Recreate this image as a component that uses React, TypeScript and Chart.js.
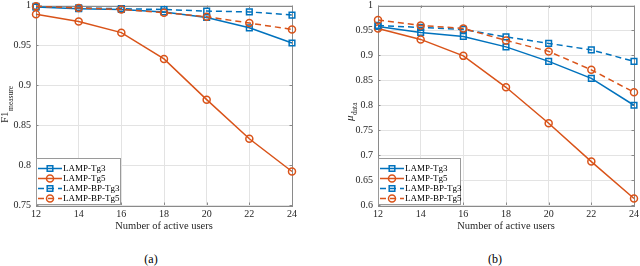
import React, { useEffect, useRef } from 'react';
import { Chart, registerables } from 'chart.js';
Chart.register(...registerables);

// ---- data ----
const users = [12, 14, 16, 18, 20, 22, 24];
const seriesNames = ['LAMP-Tg3', 'LAMP-Tg5', 'LAMP-BP-Tg3', 'LAMP-BP-Tg5'];

const f1Tg3 = [0.998, 0.996, 0.995, 0.992, 0.985, 0.972, 0.953];
const f1Tg5 = [0.989, 0.980, 0.966, 0.933, 0.882, 0.833, 0.792];
const f1BpTg3 = [0.999, 0.997, 0.996, 0.995, 0.993, 0.992, 0.988];
const f1BpTg5 = [0.999, 0.997, 0.995, 0.991, 0.986, 0.978, 0.970];

const muTg3 = [0.958, 0.946, 0.938, 0.917, 0.888, 0.854, 0.800];
const muTg5 = [0.954, 0.932, 0.899, 0.836, 0.764, 0.687, 0.613];
const muBpTg3 = [0.960, 0.956, 0.952, 0.937, 0.924, 0.911, 0.888];
const muBpTg5 = [0.971, 0.960, 0.954, 0.930, 0.908, 0.871, 0.826];

const userTicks = [12, 14, 16, 18, 20, 22, 24];
const f1Ticks = [0.75, 0.8, 0.85, 0.9, 0.95, 1];
const muTicks = [0.6, 0.65, 0.7, 0.75, 0.8, 0.85, 0.9, 0.95, 1];

const xTitle = 'Number of active users';

// ---- styles ----
const BLUE = '#0072BD';
const ORANGE = '#D95319';
const AXIS = '#262626';
const GRID = '#e3e3e3';
const BOXC = '#8a8a8a';
const FONT = '"Liberation Serif", "Times New Roman", serif';

const seriesStyle = [
  { color: BLUE, dash: [] as number[], point: 'rect' },
  { color: ORANGE, dash: [] as number[], point: 'circle' },
  { color: BLUE, dash: [6, 4], point: 'rect' },
  { color: ORANGE, dash: [6, 4], point: 'circle' },
];

function drawMarker(ctx: CanvasRenderingContext2D, kind: string, x: number, y: number, color: string) {
  ctx.save();
  ctx.setLineDash([]);
  ctx.strokeStyle = color;
  ctx.lineWidth = 1.5;
  ctx.beginPath();
  if (kind === 'rect') {
    const s = 2.8;
    ctx.rect(x - s, y - s, 2 * s, 2 * s);
  } else {
    ctx.arc(x, y, 3.5, 0, Math.PI * 2);
  }
  ctx.stroke();
  ctx.restore();
}

const framePlugin = {
  id: 'mframe',
  beforeDatasetsDraw(chart: any) {
    const { ctx, chartArea } = chart;
    const { left, right, top, bottom } = chartArea;
    ctx.save();
    ctx.strokeStyle = BOXC;
    ctx.lineWidth = 1;
    ctx.strokeRect(Math.round(left) + 0.5, Math.round(top) + 0.5, Math.round(right - left), Math.round(bottom - top));
    const tl = 2.5;
    ctx.beginPath();
    const xs = chart.scales.x;
    xs.ticks.forEach((t: any) => {
      const px = Math.round(xs.getPixelForValue(t.value)) + 0.5;
      ctx.moveTo(px, bottom);
      ctx.lineTo(px, bottom - tl);
      ctx.moveTo(px, top);
      ctx.lineTo(px, top + tl);
    });
    const ys = chart.scales.y;
    ys.ticks.forEach((t: any) => {
      const py = Math.round(ys.getPixelForValue(t.value)) + 0.5;
      ctx.moveTo(left, py);
      ctx.lineTo(left + tl, py);
      ctx.moveTo(right, py);
      ctx.lineTo(right - tl, py);
    });
    ctx.stroke();
    ctx.restore();
  },
};

const legendPlugin = {
  id: 'mlegend',
  afterDraw(chart: any, _args: any, opts: any) {
    const { ctx, chartArea } = chart;
    const x0 = Math.round(chartArea.left);
    const y1 = Math.round(chartArea.bottom);
    const y0 = y1 - 47;
    const w = opts.width;
    ctx.save();
    ctx.fillStyle = '#ffffff';
    ctx.fillRect(x0, y0, w, y1 - y0);
    ctx.strokeStyle = '#9a9a9a';
    ctx.lineWidth = 1;
    ctx.strokeRect(x0 + 0.5, y0 + 0.5, w - 1, y1 - y0 - 1);
    ctx.font = `9px ${FONT}`;
    ctx.textBaseline = 'middle';
    ctx.textAlign = 'left';
    chart.data.datasets.forEach((ds: any, i: number) => {
      const st = seriesStyle[i];
      const yy = y0 + 10 + i * 10 + 0.5;
      ctx.save();
      ctx.strokeStyle = st.color;
      ctx.lineWidth = 1.5;
      ctx.setLineDash(st.dash);
      ctx.beginPath();
      ctx.moveTo(x0 + 2, yy);
      ctx.lineTo(x0 + 26, yy);
      ctx.stroke();
      ctx.restore();
      drawMarker(ctx, st.point, x0 + 14, yy, st.color);
      ctx.fillStyle = '#000000';
      ctx.fillText(ds.label, x0 + 27, yy);
    });
    ctx.restore();
  },
};

const yLabelPlugin = {
  id: 'ylab',
  afterDraw(chart: any, _args: any, opts: any) {
    const ctx = chart.ctx;
    ctx.save();
    ctx.translate(opts.x, opts.y);
    ctx.rotate(-Math.PI / 2);
    ctx.fillStyle = AXIS;
    ctx.textBaseline = 'alphabetic';
    ctx.textAlign = 'left';
    ctx.font = `${opts.italic ? 'italic ' : ''}11px ${FONT}`;
    ctx.fillText(opts.main, 0, 0);
    const w = ctx.measureText(opts.main).width;
    ctx.font = `7.5px ${FONT}`;
    ctx.fillText(opts.sub, w + 0.5, opts.drop);
    ctx.restore();
  },
};

function buildDatasets(series: number[][]) {
  return series.map((vals, i) => {
    const st = seriesStyle[i];
    return {
      label: seriesNames[i],
      data: users.map((u, k) => ({ x: u, y: vals[k] })),
      borderColor: st.color,
      backgroundColor: 'rgba(0,0,0,0)',
      borderWidth: 1.5,
      borderDash: st.dash,
      pointStyle: st.point,
      pointRadius: st.point === 'rect' ? 4 : 3.5,
      pointBorderWidth: 1.5,
      pointBorderColor: st.color,
      pointBackgroundColor: 'rgba(0,0,0,0)',
      tension: 0,
      clip: false,
      order: 3 - i,
    };
  });
}

interface PlotProps {
  series: number[][];
  yTicks: number[];
  yAxisWidth: number;
  padRight: number;
  yLabel: { main: string; sub: string; x: number; y: number; drop: number; italic: boolean };
  legendWidth: number;
}

function Plot(props: PlotProps) {
  const ref = useRef<HTMLCanvasElement | null>(null);
  useEffect(() => {
    if (!ref.current) return;
    const tickFont = { family: FONT, size: 10 };
    const yt = props.yTicks;
    const chart = new Chart(ref.current, {
      type: 'line',
      data: { datasets: buildDatasets(props.series) as any },
      plugins: [framePlugin, legendPlugin, yLabelPlugin] as any,
      options: {
        animation: false,
        responsive: false,
        events: [],
        layout: { padding: { top: 3, right: props.padRight, left: 0, bottom: 0 } },
        plugins: {
          legend: { display: false },
          tooltip: { enabled: false },
          mlegend: { width: props.legendWidth },
          ylab: props.yLabel,
        } as any,
        scales: {
          x: {
            type: 'linear',
            min: userTicks[0],
            max: userTicks[userTicks.length - 1],
            afterBuildTicks: (s: any) => {
              s.ticks = userTicks.map((v) => ({ value: v }));
            },
            afterFit: (s: any) => {
              s.height = 35;
              s.paddingLeft = 0;
              s.paddingRight = 0;
            },
            grid: { color: GRID, lineWidth: 1, drawTicks: false },
            border: { display: false },
            ticks: { padding: 3, font: tickFont, color: AXIS, maxRotation: 0, autoSkip: false, callback: (v: any) => String(v) },
            title: { display: true, text: xTitle, font: { family: FONT, size: 10.5 }, color: AXIS, padding: { top: 0, bottom: 7 } },
          },
          y: {
            type: 'linear',
            min: yt[0],
            max: yt[yt.length - 1],
            afterBuildTicks: (s: any) => {
              s.ticks = yt.map((v) => ({ value: v }));
            },
            afterFit: (s: any) => {
              s.width = props.yAxisWidth;
              s.paddingTop = 0;
              s.paddingBottom = 0;
            },
            grid: { color: GRID, lineWidth: 1, drawTicks: false },
            border: { display: false },
            ticks: { padding: 5, font: tickFont, color: AXIS, autoSkip: false, callback: (v: any) => String(Math.round(v * 100) / 100) },
          },
        },
      } as any,
    });
    return () => chart.destroy();
  }, []);
  return <canvas ref={ref} width={320} height={240} style={{ width: 320, height: 240, display: 'block' }} />;
}

const captionStyle: React.CSSProperties = {
  position: 'absolute',
  top: 252,
  fontFamily: FONT,
  fontSize: 12,
  lineHeight: '14px',
  color: '#000',
  transform: 'translateX(-50%)',
  whiteSpace: 'nowrap',
};

export default function App() {
  return (
    <div style={{ position: 'fixed', left: 0, top: 0, width: 640, height: 266, background: '#fff', overflow: 'hidden' }}>
      <div style={{ position: 'absolute', left: 0, top: 0 }}>
        <Plot
          series={[f1Tg3, f1Tg5, f1BpTg3, f1BpTg5]}
          yTicks={f1Ticks}
          yAxisWidth={36}
          padRight={28}
          yLabel={{ main: 'F1', sub: 'measure', x: 8, y: 123, drop: 5, italic: false }}
          legendWidth={85}
        />
      </div>
      <div style={{ position: 'absolute', left: 320, top: 0 }}>
        <Plot
          series={[muTg3, muTg5, muBpTg3, muBpTg5]}
          yTicks={muTicks}
          yAxisWidth={58}
          padRight={6}
          yLabel={{ main: 'μ', sub: 'data', x: 33, y: 121, drop: 4, italic: true }}
          legendWidth={83}
        />
      </div>
      <div style={{ ...captionStyle, left: 151 }}>(a)</div>
      <div style={{ ...captionStyle, left: 495 }}>(b)</div>
    </div>
  );
}
